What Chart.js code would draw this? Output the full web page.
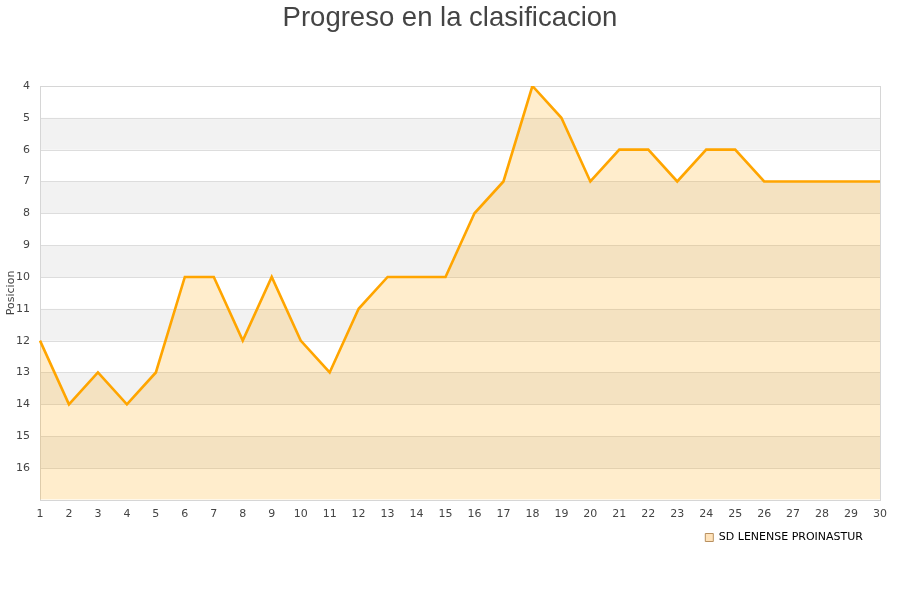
<!DOCTYPE html>
<html>
<head>
<meta charset="utf-8">
<script src="https://cdn.jsdelivr.net/npm/chart.js@4/dist/chart.umd.min.js"></script>
<style>
  html, body { margin: 0; padding: 0; background: #fff; }
  #wrap { width: 900px; height: 600px; }
</style>
</head>
<body>
<div id="wrap"><canvas id="posChart"></canvas></div>
<script>
const jornadas = [];
for (let j = 1; j <= 30; j++) jornadas.push(String(j));
const posiciones = [12, 14, 13, 14, 13, 10, 10, 12, 10, 12, 13, 11, 10, 10, 10, 8, 7, 4, 5, 7, 6, 6, 7, 6, 6, 7, 7, 7, 7, 7];
const equipo = "SD LENENSE PROINASTUR";
const posMin = 4;
const posMax = 17;

// alternating grey bands behind the line, plus a frame round the plot
const bandsPlugin = {
    id: "bands",
    afterLayout(chart) {
        // title centred on the whole page, legend nudged up and left
        chart.titleBlock.right += 20;
        chart.legend.right -= 9;
        chart.legend.top -= 5;
    },
    beforeDatasetsDraw(chart) {
        const { ctx, chartArea, scales } = chart;
        const y = scales.y;
        ctx.save();
        for (let v = posMin + 1; v < posMax; v += 2) {
            const top = y.getPixelForValue(v);
            const bot = y.getPixelForValue(v + 1);
            ctx.fillStyle = "#f2f2f2";
            ctx.fillRect(chartArea.left, top, chartArea.right - chartArea.left, bot - top);
        }
        for (let v = posMin; v < posMax; v++) {
            const py = Math.round(y.getPixelForValue(v)) + 0.5;
            ctx.strokeStyle = "#dddddd";
            ctx.lineWidth = 1;
            ctx.beginPath();
            ctx.moveTo(chartArea.left, py);
            ctx.lineTo(chartArea.right, py);
            ctx.stroke();
        }
        ctx.strokeStyle = "#d6d6d6";
        ctx.strokeRect(Math.round(chartArea.left) + 0.5, Math.round(chartArea.top) + 0.5,
            Math.round(chartArea.right - chartArea.left), Math.round(chartArea.bottom - chartArea.top));
        ctx.restore();
    }
};

const ctx = document.getElementById("posChart").getContext("2d");
const chart = new Chart(ctx, {
    type: "line",
    data: {
        labels: jornadas,
        datasets: [
            {
                label: equipo,
                data: posiciones,
                borderColor: "#ffa500",
                backgroundColor: "rgba(255, 165, 0, 0.2)",
                borderWidth: 2.6,
                pointRadius: 0,
                tension: 0,
                fill: { value: posMax },
            },
        ],
    },
    plugins: [bandsPlugin],
    options: {
        responsive: true,
        maintainAspectRatio: false,
        animation: false,
        layout: { padding: { top: 0, right: 20, bottom: 42, left: 0 } },
        plugins: {
            title: {
                display: true,
                text: "Progreso en la clasificacion",
                color: "#444444",
                font: { family: "Liberation Sans", size: 27.5, weight: "normal" },
                padding: { top: 2, bottom: 51 },
            },
            legend: {
                position: "bottom",
                align: "end",
                labels: {
                    color: "#111111",
                    font: { family: "DejaVu Sans", size: 11 },
                    boxWidth: 8,
                    boxHeight: 8,
                    padding: 8,
                    generateLabels(c) {
                        return [{
                            text: equipo,
                            fillStyle: "rgba(255, 200, 120, 0.5)",
                            strokeStyle: "#b89060",
                            lineWidth: 1,
                            datasetIndex: 0,
                        }];
                    },
                },
            },
            tooltip: { enabled: false },
        },
        scales: {
            x: {
                offset: false,
                grid: { display: false, drawTicks: false },
                border: { display: false },
                ticks: {
                    color: "#444444",
                    font: { family: "DejaVu Sans", size: 11 },
                    maxRotation: 0,
                    autoSkip: false,
                    padding: 8,
                },
            },
            y: {
                reverse: true,
                min: posMin,
                max: posMax,
                grid: { display: false, drawTicks: false },
                border: { display: false },
                afterFit(scale) { scale.width = 40; },
                title: {
                    display: true,
                    text: "Posicion",
                    color: "#444444",
                    font: { family: "DejaVu Sans", size: 11 },
                    padding: { top: 5, bottom: 0 },
                },
                ticks: {
                    stepSize: 1,
                    color: "#444444",
                    font: { family: "DejaVu Sans", size: 11 },
                    padding: 10,
                    callback: (v) => (v === posMax ? "" : v),
                },
            },
        },
    },
});
</script>
</body>
</html>
